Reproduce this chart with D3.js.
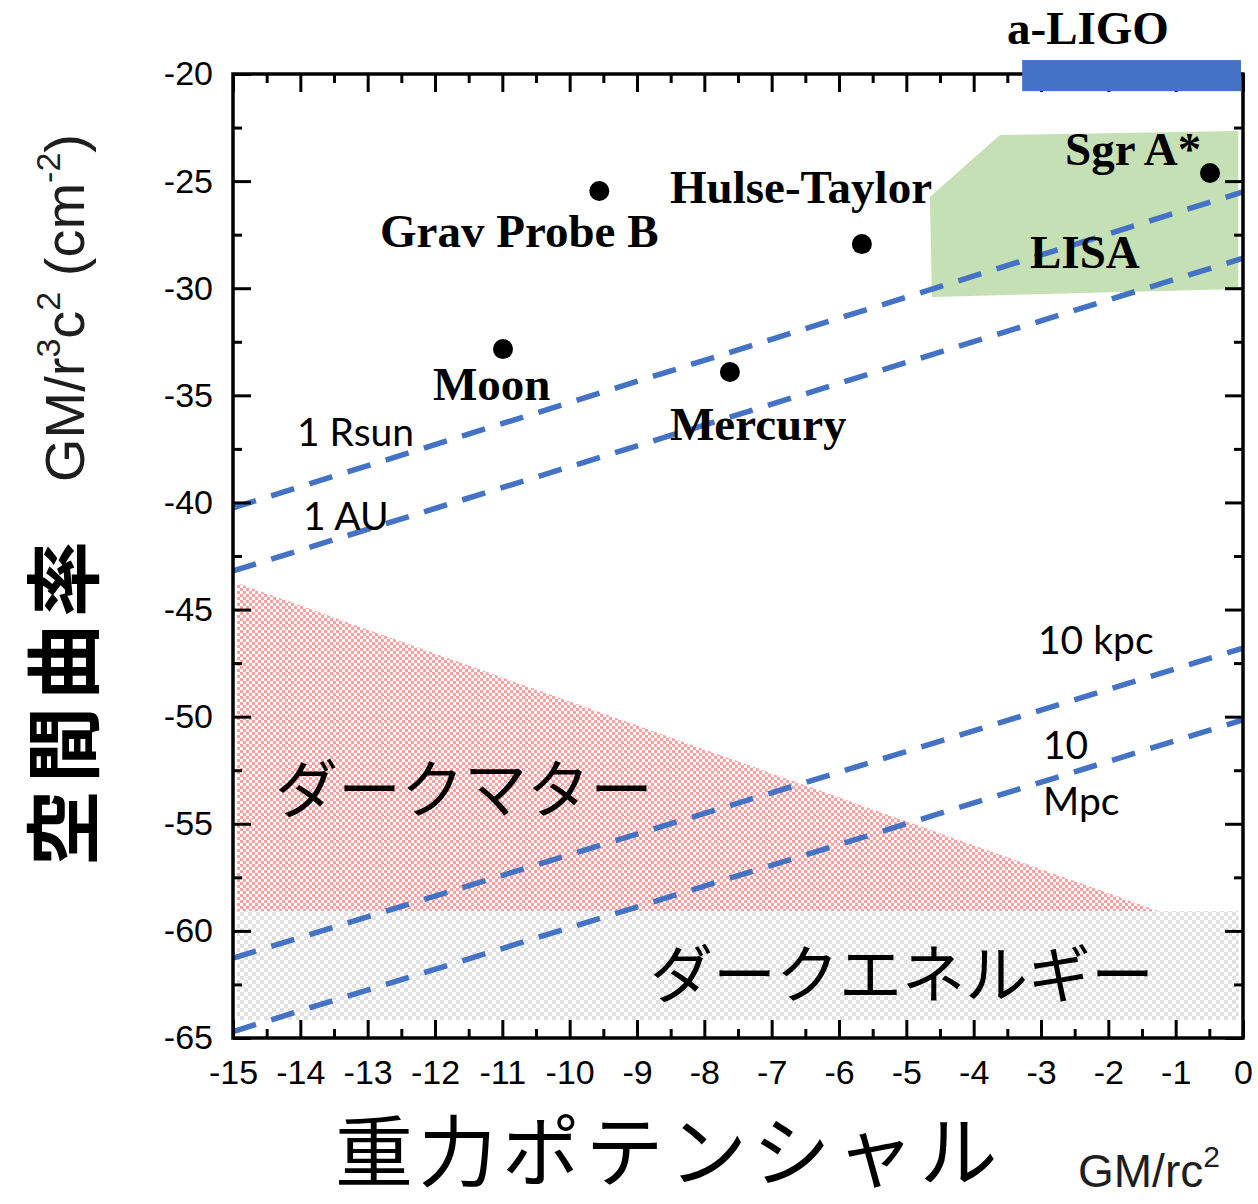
<!DOCTYPE html>
<html><head><meta charset="utf-8">
<script src="https://cdn.jsdelivr.net/npm/d3@7"></script>
<style>
html,body{margin:0;padding:0;background:#fff;}
svg{display:block;}
</style></head>
<body>
<div id="chart"></div>
<script>
// ---- data ----
const xTickValues = [-15,-14,-13,-12,-11,-10,-9,-8,-7,-6,-5,-4,-3,-2,-1,0];
const yTickValues = [-20,-25,-30,-35,-40,-45,-50,-55,-60,-65];
const objectNames = ["Grav Probe B","Hulse-Taylor","Moon","Mercury","Sgr A*"];
const objectX = [-9.56,-5.66,-10.99,-7.62,-0.49];
const objectY = [-25.46,-27.94,-32.84,-33.91,-24.62];
const lineNames = ["1 Rsun","1 AU","10 kpc","10 Mpc"];
const lineStartY = [-40.25,-43.2,-61.27,-64.7];   // at x = -15
const lineEndY = [-25.5,-28.6,-46.8,-50.15];      // at x = 0
const lisaX = [-4.65,-3.61,-0.07,-0.07,-4.62];
const lisaY = [-25.74,-22.85,-22.66,-30.04,-30.41];
const ligoX = [-3.28,-0.03];
const ligoY = [-19.35,-20.8];
const darkMatterX = [-14.94,-1.26,-14.94];
const darkMatterY = [-43.76,-59.07,-59.07];
const darkEnergyX = [-14.94,-0.06];
const darkEnergyY = [-59.07,-64.16];

const W = 1258, H = 1204;
const svg = d3.select("#chart").append("svg").attr("width",W).attr("height",H);
const x = d3.scaleLinear().domain([-15,0]).range([233,1243]);
const y = d3.scaleLinear().domain([-20,-65]).range([74,1038]);

// patterns
const defs = svg.append("defs");
const pp = defs.append("pattern").attr("id","pinkpat").attr("patternUnits","userSpaceOnUse")
  .attr("width",6).attr("height",6);
pp.append("rect").attr("width",6).attr("height",6).attr("fill","#fff");
pp.append("rect").attr("x",0).attr("y",0).attr("width",3).attr("height",3).attr("fill","#ffa0a0");
pp.append("rect").attr("x",3).attr("y",3).attr("width",3).attr("height",3).attr("fill","#ffa0a0");
const gp = defs.append("pattern").attr("id","greypat").attr("patternUnits","userSpaceOnUse")
  .attr("width",8).attr("height",8);
gp.append("rect").attr("width",8).attr("height",8).attr("fill","#fff");
gp.append("rect").attr("x",0).attr("y",0).attr("width",4).attr("height",4).attr("fill","#e0e0e0");
gp.append("rect").attr("x",4).attr("y",4).attr("width",4).attr("height",4).attr("fill","#e0e0e0");

// regions
svg.append("rect")
  .attr("x",x(darkEnergyX[0])).attr("y",y(darkEnergyY[0]))
  .attr("width",x(darkEnergyX[1])-x(darkEnergyX[0]))
  .attr("height",y(darkEnergyY[1])-y(darkEnergyY[0]))
  .attr("fill","url(#greypat)");
svg.append("polygon")
  .attr("points",darkMatterX.map((d,i)=>[x(d),y(darkMatterY[i])].join(",")).join(" "))
  .attr("fill","url(#pinkpat)");

// LISA
svg.append("polygon")
  .attr("points",lisaX.map((d,i)=>[x(d),y(lisaY[i])].join(",")).join(" "))
  .attr("fill","#c5e0b4");

// dashed lines
const lineData = lineNames.map((n,i)=>[[-15,lineStartY[i]],[0,lineEndY[i]]]);
svg.append("g").selectAll("path").data(lineData).join("path")
  .attr("d",d3.line().x(d=>x(d[0])).y(d=>y(d[1])))
  .attr("fill","none").attr("stroke","#4472c4").attr("stroke-width",5.5)
  .attr("stroke-dasharray","24,16");

// axes
const axisFont = "'Liberation Sans', Arial, sans-serif";
const fmt = d => String(d);
function styleAxis(g){
  g.select(".domain").remove();
  g.selectAll(".tick line").attr("stroke","#000").attr("stroke-width",3);
  g.selectAll("text").attr("font-family",axisFont).attr("font-size",34).attr("fill","#000");
}
const minorX = d3.range(-14.5,0,1);
const minorY = d3.range(-22.5,-65,-5);
// bottom
svg.append("g").attr("transform",`translate(0,${y(-65)})`)
  .call(d3.axisBottom(x).tickValues(xTickValues).tickSize(-18).tickPadding(22).tickFormat(fmt))
  .call(styleAxis);
svg.append("g").attr("transform",`translate(0,${y(-65)})`)
  .call(d3.axisBottom(x).tickValues(minorX).tickSize(-9).tickFormat(""))
  .call(styleAxis);
// top
svg.append("g").attr("transform",`translate(0,${y(-20)})`)
  .call(d3.axisTop(x).tickValues(xTickValues).tickSize(-18).tickFormat(""))
  .call(styleAxis);
svg.append("g").attr("transform",`translate(0,${y(-20)})`)
  .call(d3.axisTop(x).tickValues(minorX).tickSize(-9).tickFormat(""))
  .call(styleAxis);
// left
svg.append("g").attr("transform",`translate(${x(-15)},0)`)
  .call(d3.axisLeft(y).tickValues(yTickValues).tickSize(-18).tickPadding(20).tickFormat(fmt))
  .call(styleAxis);
svg.append("g").attr("transform",`translate(${x(-15)},0)`)
  .call(d3.axisLeft(y).tickValues(minorY).tickSize(-9).tickFormat(""))
  .call(styleAxis);
// right
svg.append("g").attr("transform",`translate(${x(0)},0)`)
  .call(d3.axisRight(y).tickValues(yTickValues).tickSize(-18).tickFormat(""))
  .call(styleAxis);
svg.append("g").attr("transform",`translate(${x(0)},0)`)
  .call(d3.axisRight(y).tickValues(minorY).tickSize(-9).tickFormat(""))
  .call(styleAxis);
// frame
svg.append("rect").attr("x",x(-15)).attr("y",y(-20))
  .attr("width",x(0)-x(-15)).attr("height",y(-65)-y(-20))
  .attr("fill","none").attr("stroke","#000").attr("stroke-width",3.5);

// a-LIGO bar
svg.append("rect").attr("x",x(ligoX[0])).attr("y",y(ligoY[0]))
  .attr("width",x(ligoX[1])-x(ligoX[0])).attr("height",y(ligoY[1])-y(ligoY[0]))
  .attr("fill","#4472c4");

// points
svg.append("g").selectAll("circle").data(objectX).join("circle")
  .attr("cx",d=>x(d)).attr("cy",(d,i)=>y(objectY[i])).attr("r",10).attr("fill","#000");

// serif bold labels
const serif = "'Liberation Serif', 'Times New Roman', serif";
const serifLabels = [
  {t:objectNames[0], px:380, py:247},
  {t:objectNames[1], px:670, py:203},
  {t:objectNames[2], px:433, py:400},
  {t:objectNames[3], px:670, py:440},
  {t:objectNames[4], px:1065, py:165},
  {t:"LISA", px:1030, py:268},
  {t:"a-LIGO", px:1007, py:44}
];
svg.append("g").selectAll("text").data(serifLabels).join("text")
  .attr("x",d=>d.px).attr("y",d=>d.py).text(d=>d.t)
  .attr("font-family",serif).attr("font-weight","bold").attr("font-size",47).attr("fill","#000");

// line labels
const sans = "Lato, 'Open Sans', sans-serif";
const lineLabels = [
  {t:"1 Rsun", px:297, py:446},
  {t:"1 AU", px:303, py:530},
  {t:"10 kpc", px:1038, py:654},
  {t:"10", px:1043, py:759},
  {t:"Mpc", px:1043, py:815}
];
svg.append("g").selectAll("text").data(lineLabels).join("text")
  .attr("x",d=>d.px).attr("y",d=>d.py).text(d=>d.t)
  .attr("font-family",sans).attr("font-size",39).attr("fill","#000");

// Japanese region labels
const jp = "'Noto Sans CJK JP', sans-serif";
svg.append("text").attr("x",275).attr("y",812).text("ダークマター")
  .attr("font-family",jp).attr("font-size",63).attr("fill","#000");
svg.append("text").attr("x",650).attr("y",997).text("ダークエネルギー")
  .attr("font-family",jp).attr("font-size",63).attr("fill","#000");

// axis titles
svg.append("text").attr("x",335).attr("y",1181).text("重力ポテンシャル")
  .attr("font-family",jp).attr("font-size",78).attr("letter-spacing",5.5).attr("fill","#000");
svg.append("text").attr("transform","translate(92,866) rotate(-90)").text("空間曲率")
  .attr("font-family",jp).attr("font-weight","bold").attr("font-size",76).attr("letter-spacing",7).attr("fill","#000");

// units
const unitX = svg.append("text").attr("x",1078).attr("y",1187)
  .attr("font-family",axisFont).attr("font-size",46).attr("fill","#1e1e1e");
unitX.append("tspan").text("GM/rc");
unitX.append("tspan").attr("dy",-20).attr("font-size",30).text("2");

const unitY = svg.append("text").attr("transform","translate(84,482) rotate(-90)")
  .attr("font-family",axisFont).attr("font-size",56).attr("fill","#1e1e1e");
unitY.append("tspan").text("GM/r");
unitY.append("tspan").attr("dy",-24).attr("font-size",34).text("3");
unitY.append("tspan").attr("dy",24).text("c");
unitY.append("tspan").attr("dy",-24).attr("font-size",34).text("2");
unitY.append("tspan").attr("dy",24).text(" (cm");
unitY.append("tspan").attr("dy",-24).attr("font-size",34).text("-2");
unitY.append("tspan").attr("dy",24).text(")");
</script>
</body></html>
